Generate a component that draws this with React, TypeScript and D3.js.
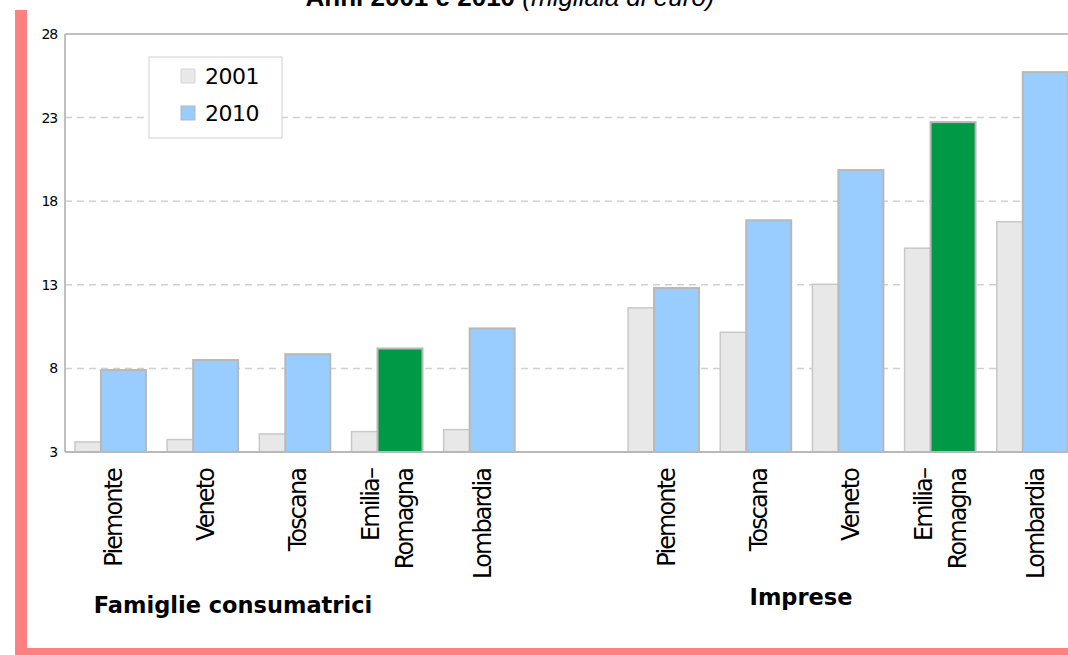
import React from 'react';
import * as d3 from 'd3';

const famCategories = ['Piemonte', 'Veneto', 'Toscana', 'Emilia–Romagna', 'Lombardia'];
const impCategories = ['Piemonte', 'Toscana', 'Veneto', 'Emilia–Romagna', 'Lombardia'];
const fam2001 = [3.6, 3.74, 4.08, 4.22, 4.34];
const fam2010 = [7.9, 8.5, 8.85, 9.19, 10.39];
const imp2001 = [11.62, 10.16, 13.03, 15.19, 16.77];
const imp2010 = [12.81, 16.86, 19.86, 22.73, 25.72];
const yTicks = [3, 8, 13, 18, 23, 28];
const seriesNames = ['2001', '2010'];
const groupNames = ['Famiglie consumatrici', 'Imprese'];
const highlight = 'Emilia–Romagna';

const W = 1068, H = 655;
const M = { left: 65, top: 34, right: 1079, bottom: 452 };

export default function App() {
  const slots = [
    ...famCategories.map((c, i) => ({ key: 'F' + i, cat: c, v1: fam2001[i], v2: fam2010[i] })),
    { key: 'gap', cat: '', v1: null as any, v2: null as any },
    ...impCategories.map((c, i) => ({ key: 'I' + i, cat: c, v1: imp2001[i], v2: imp2010[i] })),
  ];
  const x = d3.scaleBand<string>().domain(slots.map(s => s.key)).range([M.left, M.right]);
  const y = d3.scaleLinear().domain([3, 28]).range([M.bottom, M.top]);
  const bw = x.bandwidth();
  const barW = bw * 0.488;
  const off1 = bw * 0.108;
  const off2 = bw * 0.39;
  const grey = '#e8e8e8', blue = '#99ccff', green = '#009a46';
  const labelFont = "'DejaVu Sans', sans-serif";

  return (
    <svg width={W} height={H} style={{ position: 'fixed', left: 0, top: 0, background: '#fff' }}>
      <rect x={0} y={0} width={W} height={H} fill="#fff" />
      {/* title (cut) */}
      <text x={510} y={6} textAnchor="middle" fontFamily="'Liberation Sans', Arial, sans-serif" fontSize={26}>
        <tspan fontWeight="bold">Anni 2001 e 2010 </tspan>
        <tspan fontStyle="italic">(migliaia di euro)</tspan>
      </text>
      {/* pink frame */}
      <rect x={15} y={10} width={12} height={H - 10} fill="#ff8080" />
      <rect x={15} y={648} width={W - 15} height={7} fill="#ff8080" />

      {/* grid */}
      {yTicks.filter(t => t !== 3 && t !== 28).map(t => (
        <line key={t} x1={M.left} x2={M.right} y1={y(t)} y2={y(t)} stroke="#d0d0d0" strokeWidth={1.5} strokeDasharray="7,5" />
      ))}
      <line x1={M.left} x2={M.right} y1={y(28)} y2={y(28)} stroke="#c0c0c0" strokeWidth={2} />

      {/* bars */}
      {slots.filter(s => s.v1 != null).map(s => {
        const x0 = x(s.key)!;
        return (
          <g key={s.key}>
            <rect x={x0 + off1} y={y(s.v1)} width={barW} height={y(3) - y(s.v1)} fill={grey} stroke="#c8c8c8" strokeWidth={1.5} />
            <rect x={x0 + off2} y={y(s.v2)} width={barW} height={y(3) - y(s.v2)} fill={s.cat === highlight ? green : blue} stroke="#b8b8b8" strokeWidth={2} />
          </g>
        );
      })}

      {/* axes */}
      <line x1={M.left} x2={M.left} y1={M.top} y2={M.bottom} stroke="#c0c0c0" strokeWidth={2} />
      <line x1={M.left} x2={M.right} y1={M.bottom} y2={M.bottom} stroke="#b8b8b8" strokeWidth={2} />
      {yTicks.map(t => (
        <text key={t} x={57} y={y(t)} dy="0.36em" textAnchor="end" fontFamily={labelFont} fontSize={14} letterSpacing={-1.2} fill="#000">{t}</text>
      ))}

      {/* x labels */}
      {slots.filter(s => s.cat).map(s => {
        const cx = x(s.key)! + bw / 2;
        const parts = s.cat.includes('–') ? [s.cat.split('–')[0] + '–', s.cat.split('–')[1]] : [s.cat];
        return parts.map((p, i) => {
          const lx = cx + (parts.length === 1 ? 10.8 : (i === 0 ? -8.7 : 25.7));
          return (
            <text key={s.key + i} transform={`translate(${lx},469) rotate(-90)`} textAnchor="end"
              fontFamily={labelFont} fontSize={24} letterSpacing={-1.9} fill="#000">{p}</text>
          );
        });
      })}

      {/* group labels */}
      <text x={233} y={613} textAnchor="middle" fontFamily={labelFont} fontWeight="bold" fontSize={22.5}>{groupNames[0]}</text>
      <text x={801} y={605} textAnchor="middle" fontFamily={labelFont} fontWeight="bold" fontSize={22.5}>{groupNames[1]}</text>

      {/* legend */}
      <rect x={149} y={57} width={133} height={81} fill="#fff" stroke="#cfcfcf" strokeWidth={1} />
      {seriesNames.map((n, i) => (
        <g key={n}>
          <rect x={181} y={69 + i * 37} width={14} height={14} fill={i === 0 ? grey : blue} stroke={i === 0 ? '#d8d8d8' : '#b8b8b8'} strokeWidth={1} />
          <text x={205} y={84 + i * 37} fontFamily={labelFont} fontSize={22} letterSpacing={-0.5} fill="#000">{n}</text>
        </g>
      ))}
    </svg>
  );
}
